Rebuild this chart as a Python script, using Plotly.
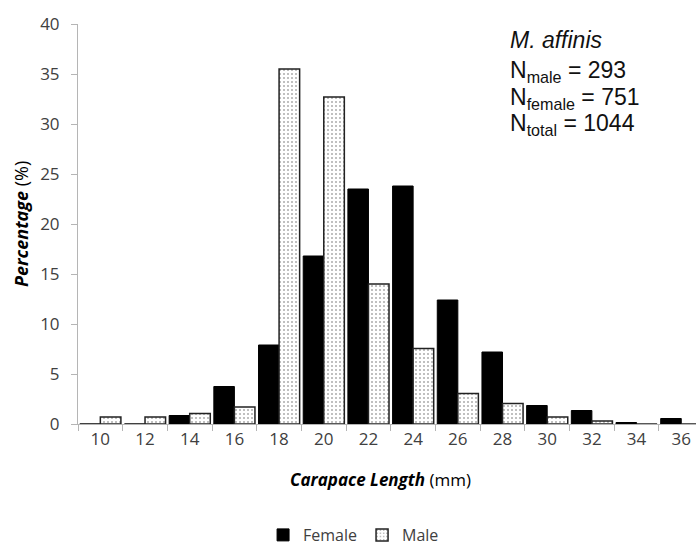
import plotly.graph_objects as go

categories = ["10", "12", "14", "16", "18", "20", "22", "24", "26", "28", "30", "32", "34", "36"]
female = [0, 0, 0.85, 3.75, 7.9, 16.8, 23.5, 23.8, 12.4, 7.2, 1.85, 1.35, 0.15, 0.55]
male = [0.7, 0.7, 1.05, 1.7, 35.5, 32.7, 14.0, 7.55, 3.05, 2.05, 0.7, 0.3, 0, 0]

yticks = [0, 5, 10, 15, 20, 25, 30, 35, 40]

FAM = "Open Sans, Lato, sans-serif"
axis_font = dict(family=FAM, size=17, color="#404040")

fig = go.Figure()
fig.add_trace(go.Bar(
    x=categories, y=female, name="Female",
    marker=dict(color="black", line=dict(color="black", width=1)),
))
fig.add_trace(go.Bar(
    x=categories, y=male, name="Male",
    marker=dict(
        color="white",
        line=dict(color="#222222", width=1.5),
        pattern=dict(shape=".", fgcolor="#555555", bgcolor="white", size=4, solidity=0.2, fillmode="overlay"),
    ),
))

fig.update_layout(
    width=696, height=545,
    margin=dict(l=78, r=0, t=24, b=121, autoexpand=False),
    paper_bgcolor="white", plot_bgcolor="white",
    barmode="group", bargap=0.08, bargroupgap=0,
    font=axis_font,
    showlegend=True,
    legend=dict(orientation="h", x=0.508, y=(545 - 535) / 545, xref="container", yref="container",
                xanchor="center", yanchor="middle",
                font=dict(family=FAM, size=16, color="#404040"),
                itemwidth=30, tracegroupgap=0),
    xaxis=dict(
        type="category", range=[-0.5, 13.33], automargin=False,
        showline=True, linecolor="#b5b5b5", linewidth=1,
        ticks="outside", tickson="boundaries", ticklen=6, tickcolor="#b5b5b5",
        showgrid=False, tickfont=axis_font,
    ),
    yaxis=dict(
        range=[0, 40], tickvals=yticks, automargin=False,
        showline=True, linecolor="#b5b5b5", linewidth=1,
        ticks="outside", ticklen=6, tickcolor="#b5b5b5", ticklabelstandoff=8,
        showgrid=False, zeroline=False, tickfont=axis_font,
    ),
)

# axis titles
fig.add_annotation(
    text="<b><i>Carapace Length</i></b> (mm)", xref="paper", yref="paper",
    x=0.490, y=-0.138, xanchor="center", yanchor="middle", showarrow=False,
    font=dict(family=FAM, size=17, color="black"),
)
fig.add_annotation(
    text="<b><i>Percentage</i></b> (%)", xref="paper", yref="paper",
    x=(21 - 78) / 618, y=0.5, xanchor="center", yanchor="middle", textangle=-90, showarrow=False,
    font=dict(family=FAM, size=18, color="black"),
)

# species / counts box
info_lines = [
    "<i>M. affinis</i>",
    "N<sub>male</sub> = 293",
    "N<sub>female</sub> = 751",
    "N<sub>total</sub> = 1044",
]
info_y = [40, 71, 98, 125]
for txt, py in zip(info_lines, info_y):
    fig.add_annotation(
        text=txt, xref="paper", yref="paper",
        x=(508 - 78) / 618, y=(424 - py) / 400, xanchor="left", yanchor="middle",
        showarrow=False, font=dict(family="Liberation Sans, Arial, sans-serif", size=23, color="#111111"),
    )

fig.write_html("out.html")
